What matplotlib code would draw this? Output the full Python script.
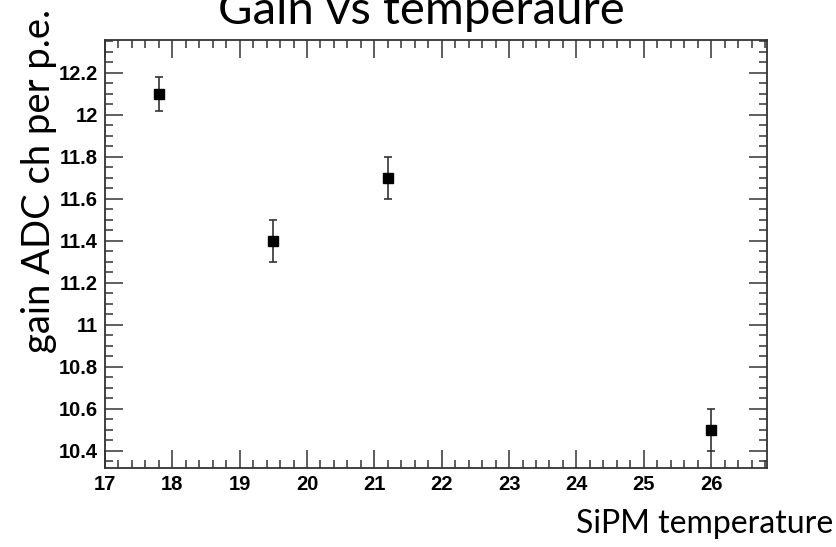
import matplotlib.pyplot as plt
from matplotlib.ticker import MultipleLocator

# data
temperatura = [17.8, 19.5, 21.2, 26.0]
ganho = [12.1, 11.4, 11.7, 10.5]
erro_ganho = [0.08, 0.1, 0.1, 0.1]

fig = plt.figure(figsize=(8.37, 5.47), dpi=100)
ax = fig.add_axes([0.1254, 0.1444, 0.791, 0.7825])

ax.errorbar(temperatura, ganho, yerr=erro_ganho, fmt="s", color="black",
            markersize=7, ecolor="#333333", elinewidth=1.2, capsize=3, capthick=1.2)

ax.set_xlim(17, 26.83)
ax.set_ylim(10.318, 12.356)
ax.xaxis.set_major_locator(MultipleLocator(1))
ax.xaxis.set_minor_locator(MultipleLocator(0.2))
ax.yaxis.set_major_locator(MultipleLocator(0.2))
ax.yaxis.set_minor_locator(MultipleLocator(0.05))
ax.tick_params(which="both", direction="in", top=True, right=True, color="#333333", width=1.1)
ax.tick_params(which="major", length=13, pad=5)
ax.tick_params(which="minor", length=6)
ax.set_xticks(range(17, 27))
ax.set_xticklabels([str(v) for v in range(17, 27)])
ax.set_yticks([10.4, 10.6, 10.8, 11, 11.2, 11.4, 11.6, 11.8, 12, 12.2])
ax.set_yticklabels(["10.4", "10.6", "10.8", "11", "11.2", "11.4", "11.6", "11.8", "12", "12.2"])
for lbl in ax.get_xticklabels() + ax.get_yticklabels():
    lbl.set_fontfamily("Liberation Sans")
    lbl.set_fontweight("bold")
    lbl.set_fontsize(14.5)
for s in ax.spines.values():
    s.set_color("#333333")
    s.set_linewidth(1.3)

fig.text(0.504, 0.957, "Gain vs temperaure", ha="center", va="baseline",
         fontsize=34, family="Lato")
fig.text(0.046, 0.67, "gain ADC ch per p.e.", ha="center", va="center",
         rotation=90, fontsize=27.5, family="Lato")
fig.text(0.996, 0.025, "SiPM temperature", ha="right", va="baseline",
         fontsize=23, family="Lato")

plt.savefig("out.png")
plt.close()
